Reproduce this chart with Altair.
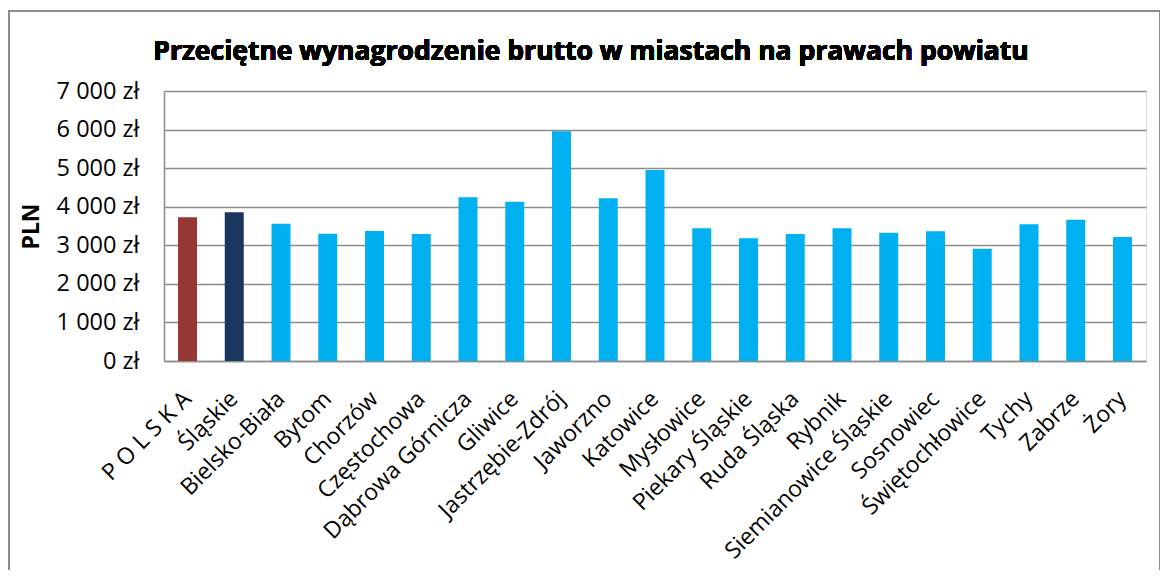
import altair as alt
import pandas as pd

chart_title = "Przeciętne wynagrodzenie brutto w miastach na prawach powiatu"
y_title = "PLN"
categories = ["P O L S K A", "Śląskie", "Bielsko-Biała", "Bytom", "Chorzów", "Częstochowa",
              "Dąbrowa Górnicza", "Gliwice", "Jastrzębie-Zdrój", "Jaworzno", "Katowice",
              "Mysłowice", "Piekary Śląskie", "Ruda Śląska", "Rybnik", "Siemianowice Śląskie",
              "Sosnowiec", "Świętochłowice", "Tychy", "Zabrze", "Żory"]
values = [3725, 3855, 3561, 3302, 3371, 3293, 4244, 4131, 5955, 4218, 4952,
          3440, 3181, 3293, 3440, 3328, 3362, 2913, 3544, 3665, 3215]
groups = ["Polska", "Województwo"] + ["Miasto"] * 19
group_names = ["Polska", "Województwo", "Miasto"]
group_colors = ["#953735", "#1B365D", "#00B0F0"]
y_ticks = [0, 1000, 2000, 3000, 4000, 5000, 6000, 7000]

df = pd.DataFrame({"miasto": categories, "wartosc": values, "grupa": groups})

FONT = "Open Sans"

bars = alt.Chart(df).mark_bar().encode(
    x=alt.X("miasto:N", sort=categories,
            scale=alt.Scale(paddingInner=0.594, paddingOuter=0.3),
            axis=alt.Axis(title=None, labelAngle=-45, labelAlign="right",
                          labelBaseline="middle", labelPadding=34, ticks=False,
                          domain=True, domainColor="#8c8c8c", domainWidth=1.5,
                          labelFont=FONT, labelFontSize=23, labelColor="#000000",
                          labelLimit=0)),
    y=alt.Y("wartosc:Q", scale=alt.Scale(domain=[0, 7000], nice=False),
            axis=alt.Axis(values=y_ticks, ticks=False, domain=True,
                          domainColor="#8c8c8c", domainWidth=1.5,
                          grid=True, gridColor="#8c8c8c", gridWidth=1.5,
                          labelExpr="replace(format(datum.value, ',d'), ',', ' ') + ' zł'",
                          labelFont=FONT, labelFontSize=23.5, labelColor="#000000",
                          labelPadding=25,
                          title=y_title, titleFont=FONT, titleFontSize=23,
                          titleFontWeight="bold", titleColor="#000000",
                          titleAngle=-90, titleX=-133, titleY=135,
                          titleAlign="center", titleBaseline="middle")),
    color=alt.Color("grupa:N", scale=alt.Scale(domain=group_names, range=group_colors),
                    legend=None),
)

frame = alt.Chart(df).mark_rect(filled=False, stroke="#8c8c8c", strokeWidth=2).encode(
    x=alt.value(-155), x2=alt.value(996), y=alt.value(-80), y2=alt.value(600)
)

title_mark = alt.Chart(df).mark_text(
    text=chart_title, font=FONT, fontSize=26.5, fontWeight="bold", color="#000000",
    align="center", baseline="alphabetic"
).encode(x=alt.value(427), y=alt.value(-31))

chart = alt.layer(frame, bars, title_mark).properties(
    width=982, height=270,
    autosize=alt.AutoSizeParams(type="none"),
    padding={"left": 156, "top": 83, "right": 14, "bottom": 209},
).configure_view(stroke=None).configure(background="#ffffff")

chart.save("out.html", embed_options={"renderer": "svg", "actions": False})
